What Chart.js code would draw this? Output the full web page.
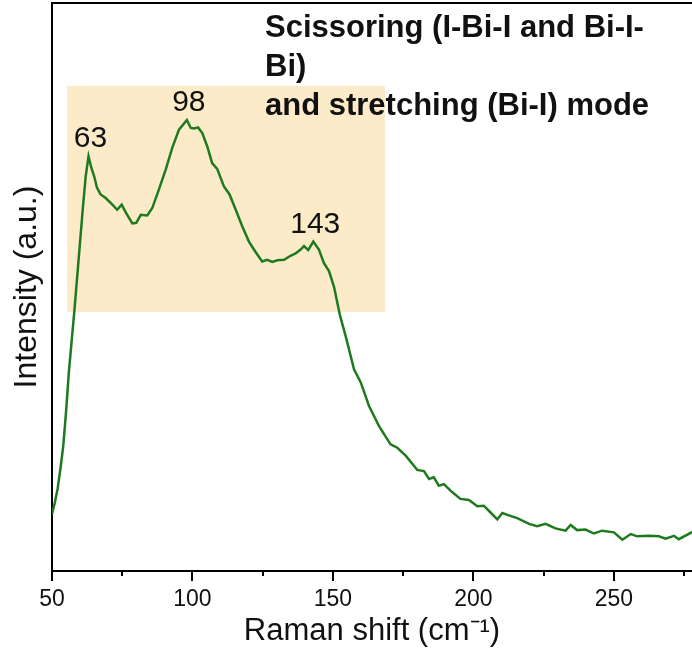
<!DOCTYPE html>
<html>
<head>
<meta charset="utf-8">
<title>Raman spectrum</title>
<script src="https://cdn.jsdelivr.net/npm/chart.js@4.4.1/dist/chart.umd.min.js"></script>
<style>
    html, body {
        margin: 0;
        padding: 0;
        background: #FFFFFF;
    }
    #ramanChart {
        display: block;
    }
</style>
</head>
<body>
<canvas id="ramanChart" width="692" height="650"></canvas>
<script>
// ==========================================
// Raman spectrum - BiI bands
// ==========================================

const ramanShift = [
    50, 51, 52, 53, 54, 55, 56, 57, 58, 59, 60, 61, 62, 63, 64, 65, 66, 67.3, 69,
    71.5, 73.2, 74.8, 76.4, 78.6, 80, 81.6, 83.9, 85.7, 88, 90.5, 92.8, 95.2, 98,
    99.4, 100.6, 102, 103.5, 105.3, 107, 108.8, 111.2, 113.2, 115.4, 117.7, 120.1,
    122.4, 124.8, 126.6, 128.4, 130.2, 132.6, 134.9, 136.7, 138.5, 139.7, 141.2, 143,
    145, 146.8, 148.6, 150.4, 152.5, 154.5, 157.5, 159.9, 162.8, 166.4, 170.5, 172.9,
    175.9, 180, 182.4, 184.2, 185.9, 187.7, 189.5, 192.4, 195.4, 198.4, 201.4, 203.7,
    206.1, 208.5, 210.3, 212.6, 215.6, 219.8, 222.7, 225.7, 229.2, 232.8, 234.6, 236.9,
    239.9, 242.9, 245.8, 250, 253, 256, 258.3, 262.5, 266, 268.4, 271.4, 273.1, 277.3, 277.8
];

const intensity = [
    10, 12, 14.5, 18, 22, 28, 35, 40.5, 46, 52, 58, 64, 69.5, 73, 71, 69.5, 67.5, 66.3, 65.7,
    64.5, 63.6, 64.5, 63, 61.2, 61.3, 62.7, 62.6, 63.9, 67.1, 70.7, 74.5, 77.7, 79.4,
    78, 77.9, 78.1, 77.1, 74.7, 71.8, 70.8, 67.7, 66.3, 63.6, 60.7, 58,
    56.2, 54.5, 54.8, 54.4, 54.7, 54.8, 55.5, 55.9, 56.6, 57.2, 56.5, 58,
    56.6, 54.2, 52.8, 50, 45, 41.4, 35.5, 33.2, 29.1, 25.5, 22.3, 21.7,
    20.3, 17.8, 17.6, 16.2, 16.5, 15, 15.3, 13.9, 12.7, 12.5, 11.4, 11.5,
    10.3, 9.1, 10.2, 9.8, 9.3, 8.3, 7.9, 8.3, 7.5, 7.1, 8.1, 7.2,
    7.3, 6.6, 7.1, 6.8, 5.5, 6.5, 6.1, 6.2, 6.1, 5.7, 6.2, 5.6, 6.7, 6.9
];

// labelled band positions (cm-1)
const peakPositions = [63, 98, 143];

// shaded band region: [x from, x to], [y from, y to]
const bandRangeX = [55.3, 168.5];
const bandRangeY = [45.6, 85.4];

const bandText = [
    "Scissoring (I-Bi-I and Bi-I-",
    "Bi)",
    "and stretching (Bi-I) mode"
];

const xTicks = [50, 100, 150, 200, 250];
const xMinorTicks = [75, 125, 175, 225, 275];

const FONT = "'Liberation Sans', Arial, sans-serif";

const points = ramanShift.map((x, i) => ({ x: x, y: intensity[i] }));

// box, frame, tick marks and labels
const decorations = {
    id: "decorations",

    beforeDatasetsDraw(chart) {
        const ctx = chart.ctx;
        const xs = chart.scales.x;
        const ys = chart.scales.y;

        const x0 = xs.getPixelForValue(bandRangeX[0]);
        const x1 = xs.getPixelForValue(bandRangeX[1]);
        const y0 = ys.getPixelForValue(bandRangeY[1]);
        const y1 = ys.getPixelForValue(bandRangeY[0]);

        ctx.save();
        ctx.fillStyle = "#FCEBC8";
        ctx.fillRect(x0, y0, x1 - x0, y1 - y0);
        ctx.restore();
    },

    afterDraw(chart) {
        const ctx = chart.ctx;
        const area = chart.chartArea;
        const xs = chart.scales.x;
        const ys = chart.scales.y;

        ctx.save();

        // top frame line
        ctx.strokeStyle = "#000000";
        ctx.lineWidth = 2;
        ctx.beginPath();
        ctx.moveTo(area.left, area.top);
        ctx.lineTo(area.right, area.top);
        ctx.stroke();

        // x tick marks, pointing outward
        ctx.beginPath();
        xTicks.forEach(v => {
            const px = Math.round(xs.getPixelForValue(v));
            ctx.moveTo(px, area.bottom);
            ctx.lineTo(px, area.bottom + 10);
        });
        xMinorTicks.forEach(v => {
            const px = Math.round(xs.getPixelForValue(v));
            ctx.moveTo(px, area.bottom);
            ctx.lineTo(px, area.bottom + 5);
        });
        ctx.stroke();

        // peak labels
        ctx.fillStyle = "#111111";
        ctx.font = "30px " + FONT;
        ctx.textAlign = "center";
        ctx.textBaseline = "alphabetic";
        peakPositions.forEach(p => {
            const i = ramanShift.indexOf(p);
            const px = xs.getPixelForValue(p);
            const py = ys.getPixelForValue(intensity[i]);
            ctx.fillText(String(p), px + 2, py - 9);
        });

        // band assignment text
        ctx.font = "bold 31px " + FONT;
        ctx.textAlign = "left";
        bandText.forEach((line, i) => {
            ctx.fillText(line, area.left + 213, area.top + 34 + i * 39);
        });

        ctx.restore();
    }
};

const ramanChart = new Chart(
    document.getElementById("ramanChart"),
    {
        type: "line",

        data: {
            datasets: [{
                data: points,
                borderColor: "#1F7A1F",
                borderWidth: 2.5,
                pointRadius: 0,
                tension: 0
            }]
        },

        options: {
            responsive: false,
            animation: false,
            devicePixelRatio: 1,

            layout: {
                padding: { top: 3, right: 0, bottom: 0, left: 0 }
            },

            plugins: {
                legend: { display: false },
                tooltip: { enabled: false }
            },

            scales: {

                x: {
                    type: "linear",
                    min: 50,
                    max: 277.8,
                    afterBuildTicks: axis => {
                        axis.ticks = xTicks.map(v => ({ value: v }));
                    },
                    afterFit: axis => {
                        axis.height = 79;
                    },
                    grid: {
                        display: false,
                        drawTicks: false
                    },
                    border: {
                        display: true,
                        color: "#000000",
                        width: 2
                    },
                    ticks: {
                        color: "#111111",
                        padding: 15,
                        autoSkip: false,
                        maxRotation: 0,
                        font: { family: FONT, size: 23 }
                    },
                    title: {
                        display: true,
                        text: "Raman shift (cm\u207B\u00B9)",
                        color: "#111111",
                        padding: { top: 0, bottom: 0 },
                        font: { family: FONT, size: 31 }
                    }
                },

                y: {
                    min: 0,
                    max: 100,
                    afterFit: axis => {
                        axis.width = 52;
                    },
                    grid: {
                        display: false,
                        drawTicks: false
                    },
                    border: {
                        display: true,
                        color: "#000000",
                        width: 2
                    },
                    ticks: {
                        display: false
                    },
                    title: {
                        display: true,
                        text: "Intensity (a.u.)",
                        color: "#111111",
                        padding: { top: 8, bottom: 0 },
                        font: { family: FONT, size: 32 }
                    }
                }

            }
        },

        plugins: [decorations]
    }
);
</script>
</body>
</html>
